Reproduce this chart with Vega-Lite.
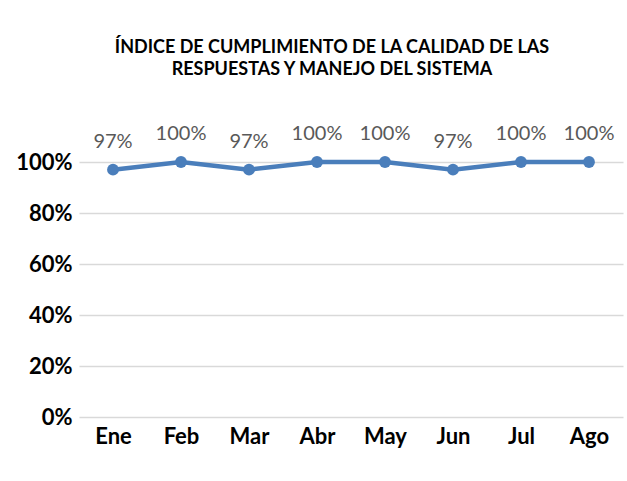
{
  "$schema": "https://vega.github.io/schema/vega-lite/v6.json",
  "autosize": {"type": "none"},
  "width": 544,
  "height": 255,
  "padding": {"left": 79, "top": 162, "right": 4, "bottom": 64},
  "background": "white",
  "config": {"view": {"stroke": null}, "font": "Lato"},
  "title": {
    "text": ["ÍNDICE DE CUMPLIMIENTO DE LA CALIDAD DE LAS", "RESPUESTAS Y MANEJO DEL SISTEMA"],
    "font": "Lato",
    "fontSize": 18,
    "fontWeight": "bold",
    "color": "#000000",
    "anchor": "middle",
    "lineHeight": 22,
    "dx": -19,
    "offset": 45
  },
  "data": {
    "values": [
      {"mes": "Ene", "valor": 0.97},
      {"mes": "Feb", "valor": 1.0},
      {"mes": "Mar", "valor": 0.97},
      {"mes": "Abr", "valor": 1.0},
      {"mes": "May", "valor": 1.0},
      {"mes": "Jun", "valor": 0.97},
      {"mes": "Jul", "valor": 1.0},
      {"mes": "Ago", "valor": 1.0}
    ]
  },
  "encoding": {
    "x": {
      "field": "mes",
      "type": "ordinal",
      "sort": null,
      "scale": {"type": "point", "padding": 0.5},
      "axis": {
        "title": null,
        "labelAngle": 0,
        "labelFont": "Lato",
        "labelFontSize": 22,
        "labelFontWeight": "bold",
        "labelColor": "#000000",
        "labelPadding": 9,
        "domain": false,
        "ticks": false,
        "grid": false
      }
    },
    "y": {
      "field": "valor",
      "type": "quantitative",
      "scale": {"domain": [0, 1]},
      "axis": {
        "title": null,
        "values": [0, 0.2, 0.4, 0.6, 0.8, 1.0],
        "format": ".0%",
        "labelFont": "Lato",
        "labelFontSize": 22,
        "labelFontWeight": "bold",
        "labelColor": "#000000",
        "labelPadding": 7,
        "domain": false,
        "ticks": false,
        "grid": true,
        "gridColor": "#D9D9D9",
        "gridWidth": 1.5
      }
    }
  },
  "layer": [
    {
      "mark": {"type": "line", "color": "#4A7EBB", "strokeWidth": 4.5, "clip": false,
        "point": {"filled": true, "size": 140, "color": "#4A7EBB"}}
    },
    {
      "mark": {"type": "text", "baseline": "bottom", "dy": -18, "fontSize": 20, "font": "Lato", "color": "#595959", "clip": false},
      "encoding": {"text": {"field": "valor", "type": "quantitative", "format": ".0%"}}
    }
  ]
}
